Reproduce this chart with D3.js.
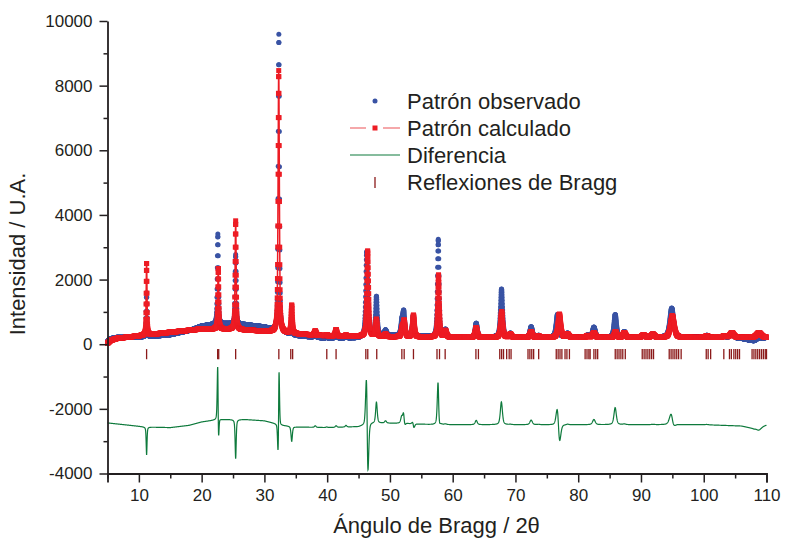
<!DOCTYPE html>
<html>
<head>
<meta charset="utf-8">
<script src="https://cdn.jsdelivr.net/npm/d3@7"></script>
<style>
  body { margin: 0; background: #fff; }
  text { font-family: "Liberation Sans", Arial, sans-serif; fill: #231f20; }
</style>
</head>
<body>
<svg width="785" height="539"></svg>
<script>
// --- data ---
const angleRange = [5, 110];
const angleStep = 0.02;

// background of calculated pattern (knots)
const bgAngles = [5, 5.5, 6.5, 11, 15, 20, 25, 30, 35, 40, 50, 60, 80, 110];
const bgCalc =   [30, 120, 180, 280, 370, 470, 460, 400, 320, 255, 225, 210, 205, 205];
// observed minus calculated background (knots)
const bgOffAngles = [5, 11, 15, 18, 20, 22, 24, 27, 30, 33, 35, 40, 45, 47, 52, 57, 100, 106, 108, 110];
const bgOffset =    [65, -60, -80, -10, 95, 150, 170, 170, 130, -10, -60, -80, -50, 65, 50, 10, 10, -30, -110, 0];

// peaks: calculated position / height, observed position / height, widths (FWHM)
const calcPos =    [11.23, 22.65, 25.42, 32.28, 34.35, 38.1, 39.94, 41.42, 43.0, 46.45, 47.85, 49.3, 51.95, 52.27, 53.75, 57.74, 58.85, 63.75, 67.8, 69.2, 72.5, 73.7, 77.0, 78.3, 81.5, 82.5, 85.95, 87.35, 90.4, 91.9, 95.0, 100.5, 103.3, 104.5, 108.8];
const calcHeight = [2240, 1890, 3360, 8100, 870, 130, 40, 200, 30, 2650, 525, 80, 250, 480, 675, 1930, 200, 300, 800, 100, 180, 40, 720, 100, 60, 150, 180, 150, 80, 100, 670, 50, 50, 150, 150];
const obsPos =     [11.23, 22.58, 25.42, 32.30, 34.35, 38.1, 39.94, 41.42, 43.0, 46.30, 47.85, 49.3, 51.9, 52.2, 53.72, 57.70, 58.85, 63.75, 67.78, 69.2, 72.5, 73.7, 76.7, 78.3, 81.5, 82.5, 85.9, 87.35, 90.4, 91.9, 94.9, 100.5, 103.3, 104.5, 108.8];
const obsHeight =  [1380, 2790, 2150, 9200, 410, 180, 60, 250, 80, 2600, 1175, 150, 400, 700, 620, 3020, 220, 430, 1490, 110, 320, 50, 700, 120, 60, 310, 700, 170, 80, 110, 900, 60, 50, 150, 60];
const calcWidth =  [0.16, 0.2, 0.2, 0.24, 0.25, 0.3, 0.3, 0.3, 0.3, 0.34, 0.3, 0.35, 0.35, 0.35, 0.35, 0.3, 0.4, 0.4, 0.4, 0.4, 0.45, 0.4, 0.5, 0.5, 0.5, 0.5, 0.45, 0.5, 0.6, 0.6, 0.7, 0.6, 0.6, 0.7, 0.9];
const obsWidth =   [0.16, 0.2, 0.2, 0.22, 0.25, 0.3, 0.3, 0.3, 0.3, 0.34, 0.3, 0.35, 0.35, 0.35, 0.35, 0.3, 0.4, 0.4, 0.4, 0.4, 0.45, 0.4, 0.5, 0.5, 0.5, 0.5, 0.45, 0.5, 0.6, 0.6, 0.7, 0.6, 0.6, 0.7, 0.9];

// Bragg reflection positions
const braggPos = [11.23, 22.55, 22.72, 25.42, 32.30, 34.2, 34.5, 39.94, 41.42, 46.16, 46.47, 47.9, 51.9, 52.27, 53.75,
  57.5, 57.9, 58.8, 63.7, 64.1, 67.5, 67.8, 68.1, 68.6, 69.0, 69.3, 72.0, 72.3, 72.6, 72.9, 73.7,
  76.5, 76.8, 77.1, 77.4, 77.9, 78.2, 78.6, 81.1, 81.4, 81.7, 81.9, 82.5, 82.8, 83.1,
  85.9, 86.2, 86.5, 86.8, 87.1, 87.5, 90.2, 90.5, 90.8, 91.1, 91.4, 91.7, 92.0,
  94.5, 94.8, 95.1, 95.4, 95.7, 96.0, 96.4, 100.4, 100.7, 101.1, 103.2, 104.1, 104.4, 104.8, 105.1, 105.4, 105.7,
  107.7, 108.0, 108.3, 108.6, 108.9, 109.2, 109.5, 109.8, 110.0];

const diffOffset = -2500;
const yTicks = [-4000, -3000, -2000, -1000, 0, 1000, 2000, 3000, 4000, 5000, 6000, 7000, 8000, 9000, 10000];
const xTicks = [5, 10, 15, 20, 25, 30, 35, 40, 45, 50, 55, 60, 65, 70, 75, 80, 85, 90, 95, 100, 105, 110];

const legendLabels = ["Patrón observado", "Patrón calculado", "Diferencia", "Reflexiones de Bragg"];

// --- build the profiles ---
const bgC = d3.scaleLinear().domain(bgAngles).range(bgCalc);
const bgO = d3.scaleLinear().domain(bgOffAngles).range(bgOffset);

function pv(t, x0, w) {
  const u = (t - x0) / (w / 2);
  return 0.5 / (1 + u * u) + 0.5 * Math.exp(-Math.LN2 * u * u);
}

const angles = d3.range(angleRange[0], angleRange[1] + 1e-9, angleStep);
const pattern = angles.map(t => {
  let c = bgC(t), o = bgC(t) + bgO(t);
  calcPos.forEach((p, i) => {
    c += calcHeight[i] * pv(t, p, calcWidth[i]);
    o += obsHeight[i] * pv(t, obsPos[i], obsWidth[i]);
  });
  return {t: t, calc: c, obs: o, diff: o - c + diffOffset};
});

// --- chart ---
const svg = d3.select("svg");

const x = d3.scaleLinear().domain(angleRange).range([107.5, 766.5]);
const y = d3.scaleLinear().domain([-4000, 10000]).range([473.5, 21]);

// observed points
svg.append("g")
  .selectAll("circle")
  .data(pattern)
  .join("circle")
  .attr("cx", d => x(d.t))
  .attr("cy", d => y(d.obs))
  .attr("r", 2.5)
  .attr("fill", "#3953a4");

// calculated line + square markers
svg.append("path")
  .datum(pattern)
  .attr("fill", "none")
  .attr("stroke", "#ed1c24")
  .attr("stroke-width", 1.5)
  .attr("d", d3.line().x(d => x(d.t)).y(d => y(d.calc)));

svg.append("g")
  .selectAll("rect")
  .data(pattern)
  .join("rect")
  .attr("x", d => x(d.t) - 2.5)
  .attr("y", d => y(d.calc) - 2.5)
  .attr("width", 5)
  .attr("height", 5)
  .attr("fill", "#ed1c24");

// Bragg ticks
svg.append("g")
  .selectAll("line")
  .data(braggPos)
  .join("line")
  .attr("x1", d => x(d)).attr("x2", d => x(d))
  .attr("y1", y(-150)).attr("y2", y(-465))
  .attr("stroke", "#8b1a1a")
  .attr("stroke-width", 1.3);

// difference
svg.append("path")
  .datum(pattern)
  .attr("fill", "none")
  .attr("stroke", "#0e7a3c")
  .attr("stroke-width", 1.2)
  .attr("d", d3.line().x(d => x(d.t)).y(d => y(d.diff)));

// axes
const yAxis = svg.append("g")
  .attr("transform", "translate(107.5,0)")
  .call(d3.axisLeft(y).tickValues(yTicks).tickSizeOuter(0).tickPadding(9)
    .tickFormat(d => d % 2000 === 0 ? String(d) : ""));
yAxis.selectAll(".tick line").attr("x2", d => d % 2000 === 0 ? -8 : -4);

const xAxis = svg.append("g")
  .attr("transform", "translate(0,473.5)")
  .call(d3.axisBottom(x).tickValues(xTicks).tickSizeOuter(0).tickSize(9).tickPadding(6)
    .tickFormat(d => d % 10 === 0 ? String(d) : ""));
xAxis.selectAll(".tick line").attr("y2", d => d % 10 === 0 ? 9 : 5);

svg.selectAll(".domain").attr("stroke", "#231f20").attr("stroke-width", 1.8);
svg.selectAll(".tick line").attr("stroke", "#231f20").attr("stroke-width", 1.5);
svg.selectAll(".tick text").attr("font-size", 17).attr("fill", "#231f20")
  .attr("font-family", "'Liberation Sans', Arial, sans-serif");

// axis titles
svg.append("text")
  .attr("transform", "translate(25,254) rotate(-90)")
  .attr("text-anchor", "middle")
  .attr("font-size", 22)
  .text("Intensidad / U.A.");

svg.append("text")
  .attr("x", 436.5).attr("y", 533)
  .attr("text-anchor", "middle")
  .attr("font-size", 22)
  .text("Ángulo de Bragg / 2θ");

// legend
const leg = svg.append("g");
const rowY = [101, 128, 155, 182];
leg.append("circle").attr("cx", 375).attr("cy", rowY[0]).attr("r", 2.5).attr("fill", "#3953a4");
leg.append("line").attr("x1", 350).attr("x2", 366).attr("y1", rowY[1]).attr("y2", rowY[1])
  .attr("stroke", "#f28b8e").attr("stroke-width", 1.5);
leg.append("line").attr("x1", 383).attr("x2", 400).attr("y1", rowY[1]).attr("y2", rowY[1])
  .attr("stroke", "#f28b8e").attr("stroke-width", 1.5);
leg.append("rect").attr("x", 372.5).attr("y", rowY[1] - 2.5).attr("width", 5).attr("height", 5).attr("fill", "#ed1c24");
leg.append("line").attr("x1", 350).attr("x2", 400).attr("y1", rowY[2]).attr("y2", rowY[2])
  .attr("stroke", "#0e7a3c").attr("stroke-width", 1.2);
leg.append("line").attr("x1", 375).attr("x2", 375).attr("y1", rowY[3] - 5).attr("y2", rowY[3] + 6)
  .attr("stroke", "#8b1a1a").attr("stroke-width", 1.3);
leg.selectAll("text.lab")
  .data(legendLabels)
  .join("text")
  .attr("class", "lab")
  .attr("x", 407)
  .attr("y", (d, i) => rowY[i] + 8)
  .attr("font-size", 22)
  .text(d => d);
</script>
</body>
</html>
